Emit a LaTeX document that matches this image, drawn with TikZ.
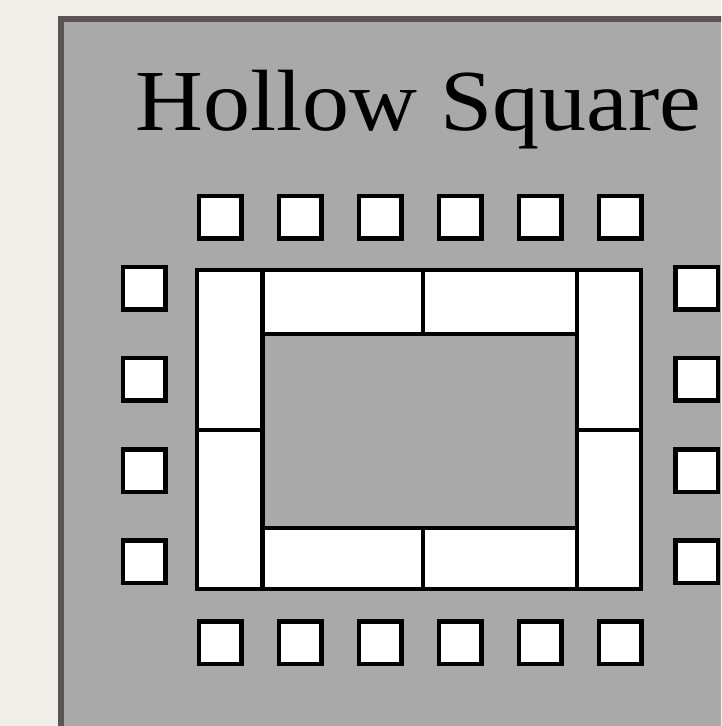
\documentclass[tikz,border=0pt]{standalone}
\usepackage{fontspec}
\setmainfont{Liberation Serif}
\usepackage{xcolor}
\usetikzlibrary{positioning}
\definecolor{pagebg}{HTML}{F1EEEA}
\definecolor{panelbg}{HTML}{A9A9A9}
\definecolor{panelrim}{HTML}{5A5454}
\tikzset{
  chair/.style={draw=black,fill=white,line width=4.5pt,minimum size=42.5pt,inner sep=0pt},
  tablebox/.style={draw=black,fill=white,line width=4.5pt,inner sep=0pt}
}
\begin{document}
\begin{tikzpicture}[x=1pt,y=-1pt]
\useasboundingbox (0,0) rectangle (721,726);
\clip (0,0) rectangle (721,726);
\fill[pagebg] (0,0) rectangle (721,726);
% grey panel, cut off at right and bottom
\draw[fill=panelbg,draw=panelrim,line width=6pt] (61,19) rectangle (760,760);
\node[xscale=1.08,anchor=base] (title) at (418.5,130) {\fontsize{87}{90}\selectfont Hollow Square};
% tables
\draw[tablebox] (197,270) rectangle (262.5,430);
\draw[tablebox] (197,430) rectangle (262.5,589);
\draw[tablebox] (577,270) rectangle (641,430);
\draw[tablebox] (577,430) rectangle (641,589);
\draw[tablebox] (262.5,270) rectangle (423,334);
\draw[tablebox] (423,270) rectangle (577,334);
\draw[tablebox] (262.5,528) rectangle (423,589);
\draw[tablebox] (423,528) rectangle (577,589);
% chairs
\foreach \i in {0,...,5}{
  \node[chair] (top\i) at ({220+80*\i},217) {};
  \node[chair] (bot\i) at ({220+80*\i},642.5) {};
}
\foreach \j in {0,...,3}{
  \node[chair] (left\j) at (144,{288+91.3*\j}) {};
  \node[chair] (right\j) at (696.5,{288+91.3*\j}) {};
}
\end{tikzpicture}
\end{document}
